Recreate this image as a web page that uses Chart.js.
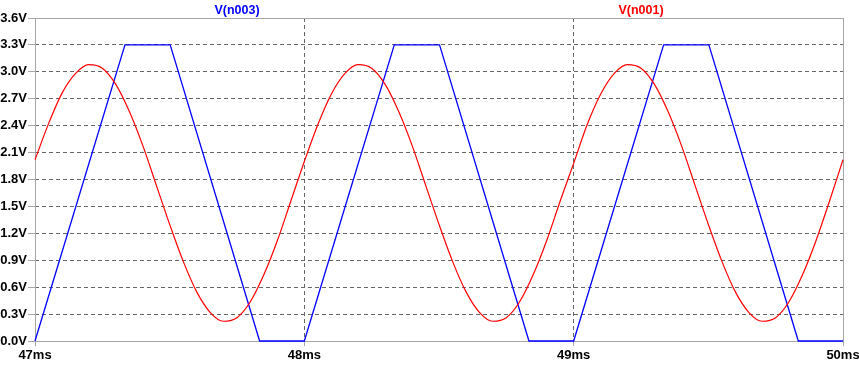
<!DOCTYPE html>
<html>
<head>
<meta charset="utf-8">
<script src="https://cdn.jsdelivr.net/npm/chart.js@4/dist/chart.umd.min.js"></script>
<style>
  html, body { margin: 0; padding: 0; background: #fff; }
  #wrap { width: 859px; height: 367px; }
</style>
</head>
<body>
<div id="wrap"><canvas id="plot"></canvas></div>
<script>
// time in ms, voltages in V
const redTimes = [
  47.00, 47.05, 47.10, 47.15, 47.20, 47.25, 47.30, 47.35, 47.40, 47.45,
  47.50, 47.55, 47.60, 47.65, 47.70, 47.75, 47.80, 47.85, 47.90, 47.95,
  48.00, 48.05, 48.10, 48.15, 48.20, 48.25, 48.30, 48.35, 48.40, 48.45,
  48.50, 48.55, 48.60, 48.65, 48.70, 48.75, 48.80, 48.85, 48.90, 48.95,
  49.00, 49.05, 49.10, 49.15, 49.20, 49.25, 49.30, 49.35, 49.40, 49.45,
  49.50, 49.55, 49.60, 49.65, 49.70, 49.75, 49.80, 49.85, 49.90, 49.95, 50.00
];
const redVolts = [
  2.02, 2.42, 2.76, 2.98, 3.08, 3.04, 2.86, 2.56, 2.18, 1.74,
  1.30, 0.89, 0.55, 0.32, 0.22, 0.26, 0.44, 0.74, 1.12, 1.56,
  2.00, 2.41, 2.75, 2.98, 3.08, 3.04, 2.86, 2.56, 2.18, 1.74,
  1.30, 0.89, 0.55, 0.32, 0.22, 0.26, 0.44, 0.74, 1.12, 1.56,
  1.98, 2.41, 2.75, 2.98, 3.08, 3.04, 2.86, 2.56, 2.18, 1.74,
  1.30, 0.89, 0.55, 0.32, 0.22, 0.26, 0.44, 0.74, 1.12, 1.56, 2.02
];
const blueTimes = [
  47.000, 47.334, 47.502, 47.834, 48.000,
  48.334, 48.502, 48.834, 49.000,
  49.334, 49.502, 49.834, 50.000
];
const blueVolts = [
  0.0, 3.3, 3.3, 0.0, 0.0,
  3.3, 3.3, 0.0, 0.0,
  3.3, 3.3, 0.0, 0.0
];
const xTickValues = [47, 48, 49, 50];
const yTickValues = [0, 0.3, 0.6, 0.9, 1.2, 1.5, 1.8, 2.1, 2.4, 2.7, 3.0, 3.3, 3.6];
const seriesNames = ["V(n003)", "V(n001)"];
const seriesColors = ["#0000ff", "#ff0000"];

const FONT = { family: "'Liberation Sans', Arial, sans-serif", size: 13, weight: "bold" };
const GRID = "#666666";
const FRAME = "#a6a6a6";

function pairs(xs, ys) {
  return xs.map((x, i) => ({ x: x, y: ys[i] }));
}

//frame round the plot, drawn under the traces
const framePlugin = {
  id: "frame",
  beforeDatasetsDraw(chart) {
    const a = chart.chartArea, c = chart.ctx;
    c.save();
    c.strokeStyle = FRAME;
    c.lineWidth = 1;
    c.strokeRect(Math.round(a.left) + 0.5, Math.round(a.top) + 0.5,
                 Math.round(a.right - a.left), Math.round(a.bottom - a.top));
    c.restore();
  },
  afterDraw(chart) {
    //trace names over the plot, at a quarter and three quarters
    const a = chart.chartArea, c = chart.ctx;
    c.save();
    c.font = `bold 12.5px ${FONT.family}`;
    c.textAlign = "center";
    c.textBaseline = "alphabetic";
    const w = a.right - a.left;
    c.fillStyle = seriesColors[0];
    c.fillText(seriesNames[0], a.left + w * 0.25, 14);
    c.fillStyle = seriesColors[1];
    c.fillText(seriesNames[1], a.left + w * 0.75, 14);
    c.restore();
  }
};

new Chart(document.getElementById("plot"), {
  type: "line",
  data: {
    datasets: [
      {
        label: seriesNames[1],
        data: pairs(redTimes, redVolts),
        borderColor: seriesColors[1],
        borderWidth: 1.2,
        pointRadius: 0,
        cubicInterpolationMode: "monotone",
        fill: false,
        clip: 3
      },
      {
        label: seriesNames[0],
        data: pairs(blueTimes, blueVolts),
        borderColor: seriesColors[0],
        borderWidth: 1.3,
        pointRadius: 0,
        tension: 0,
        fill: false,
        clip: 3
      }
    ]
  },
  options: {
    responsive: true,
    maintainAspectRatio: false,
    animation: false,
    events: [],
    layout: { padding: { top: 18, right: 16, left: 0, bottom: 0 } },
    plugins: {
      legend: { display: false },
      tooltip: { enabled: false }
    },
    scales: {
      x: {
        type: "linear",
        min: 47,
        max: 50,
        afterBuildTicks: (s) => { s.ticks = xTickValues.map(v => ({ value: v })); },
        afterFit: (s) => { s.height = 26; s.paddingLeft = 0; s.paddingRight = 0; },
        border: { display: false, dash: [4, 3] },
        grid: {
          color: GRID,
          lineWidth: 1,
          drawTicks: true,
          tickLength: 5,
          tickColor: FRAME,
          tickBorderDash: []
        },
        ticks: {
          color: "#000",
          font: FONT,
          padding: 2,
          maxRotation: 0,
          autoSkip: false,
          callback: (v) => v + "ms"
        }
      },
      y: {
        min: 0,
        max: 3.6,
        afterBuildTicks: (s) => { s.ticks = yTickValues.map(v => ({ value: v })); },
        afterFit: (s) => { s.width = 35; s.paddingTop = 0; s.paddingBottom = 0; },
        border: { display: false, dash: [4, 3] },
        grid: {
          color: GRID,
          lineWidth: 1,
          drawTicks: true,
          tickLength: 7,
          tickColor: FRAME,
          tickBorderDash: []
        },
        ticks: {
          color: "#000",
          font: FONT,
          padding: 1,
          autoSkip: false,
          callback: (v) => Number(v).toFixed(1) + "V"
        }
      }
    }
  },
  plugins: [framePlugin]
});
</script>
</body>
</html>
